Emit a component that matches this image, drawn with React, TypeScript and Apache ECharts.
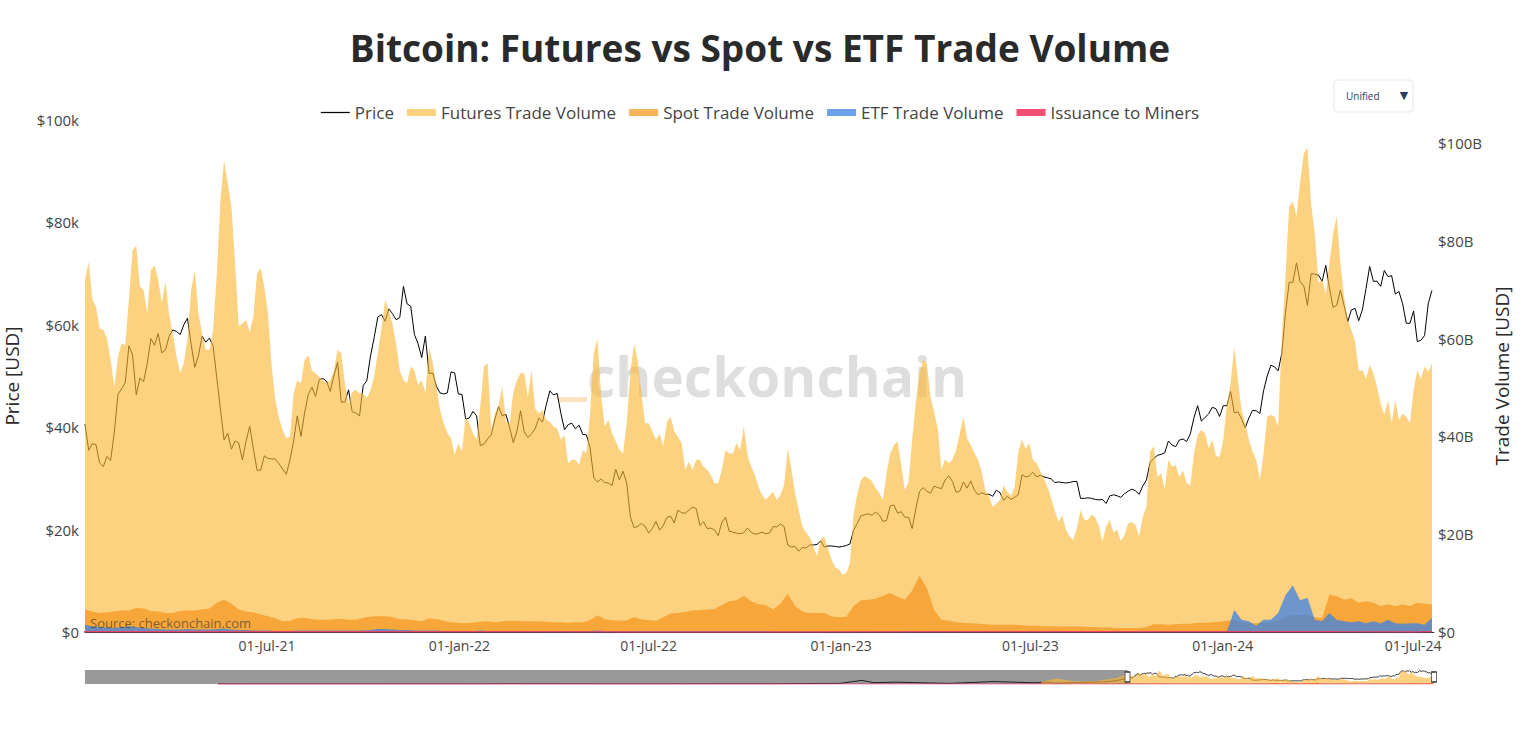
import React, { useEffect, useRef } from 'react';
import * as echarts from 'echarts';

const DAY = 86400000;
const WEEK_START = '2021-01-08';
const VIEW_START = '2021-01-08';
const VIEW_END = '2024-07-21';
const ALL_START = '2009-01-03';

const TITLE = 'Bitcoin: Futures vs Spot vs ETF Trade Volume';
const MONTHS = ['Jan', 'Feb', 'Mar', 'Apr', 'May', 'Jun', 'Jul', 'Aug', 'Sep', 'Oct', 'Nov', 'Dec'];
const priceTicksK = [0, 20, 40, 60, 80, 100];
const volumeTicksB = [0, 20, 40, 60, 80, 100];

// Weekly samples (Fridays from 2021-01-08); price in $k, volumes in $B
const priceK = [
  40.6, 36.8, 33.0, 34.3, 38.9, 47.5, 55.9, 46.3, 48.9, 57.3,
  58.3, 55.1, 59.0, 58.1, 61.3, 51.7, 57.8, 57.4, 49.7, 37.5,
  35.7, 36.9, 37.3, 35.8, 31.6, 33.9, 33.8, 31.8, 33.6, 42.2,
  42.8, 47.8, 49.3, 49.0, 50.0, 44.9, 47.3, 42.8, 48.1, 53.9,
  61.5, 60.7, 62.2, 61.4, 64.1, 58.1, 53.6, 50.5, 48.0, 46.5,
  50.8, 46.5, 41.6, 43.1, 36.4, 37.7, 41.6, 42.2, 40.0, 39.1,
  39.1, 38.7, 41.8, 44.3, 46.3, 42.8, 40.5, 39.7, 38.6, 36.0,
  29.3, 29.2, 28.6, 29.7, 29.1, 20.4, 21.2, 19.3, 21.6, 20.8,
  22.6, 23.8, 23.2, 24.4, 20.8, 20.2, 19.9, 21.4, 19.7, 19.3,
  19.4, 19.5, 19.2, 19.2, 20.6, 21.1, 17.0, 16.7, 16.5, 17.0,
  17.1, 16.6, 16.8, 16.6, 16.9, 19.9, 22.7, 23.1, 23.4, 21.6,
  24.6, 23.2, 22.4, 20.2, 27.4, 27.5, 28.5, 28.0, 30.5, 27.3,
  29.3, 29.5, 26.8, 26.9, 26.5, 27.2, 26.5, 26.3, 30.7, 30.5,
  30.3, 30.3, 29.9, 29.3, 29.1, 29.4, 26.1, 26.2, 25.9, 25.9,
  26.6, 26.6, 27.0, 27.9, 26.9, 29.7, 33.9, 34.7, 37.3, 36.2,
  37.7, 38.7, 44.2, 41.9, 43.9, 42.1, 44.2, 42.8, 41.6, 41.8,
  43.2, 47.1, 52.1, 51.0, 62.4, 68.3, 68.4, 63.8, 69.9, 68.5,
  67.2, 63.8, 63.8, 62.9, 60.8, 67.1, 68.5, 67.5, 69.4, 66.0,
  64.1, 60.3, 56.7, 57.9, 66.7,
];
// Mid-week samples (between each Friday and the next)
const priceMidK = [
  35.5, 36.6, 32.3, 33.5, 46.4, 48.7, 54.1, 49.6, 52.4, 56.0,
  54.5, 57.8, 58.7, 60.0, 56.2, 54.0, 56.6, 55.9, 43.5, 38.8,
  37.3, 33.6, 40.2, 31.6, 34.4, 33.8, 32.9, 30.8, 37.3, 38.2,
  46.4, 46.0, 49.5, 47.0, 52.7, 44.9, 43.0, 42.2, 49.1, 57.5,
  62.0, 63.1, 61.0, 67.5, 63.6, 56.3, 57.8, 50.6, 46.7, 46.7,
  50.6, 46.4, 41.8, 42.2, 36.7, 38.5, 44.0, 42.5, 37.0, 43.2,
  38.0, 39.7, 41.0, 47.1, 46.6, 39.5, 40.8, 40.4, 38.5, 30.1,
  29.9, 29.1, 31.8, 31.4, 22.5, 20.6, 20.7, 20.2, 19.9, 22.4,
  21.3, 23.3, 23.8, 24.1, 21.5, 20.3, 18.8, 22.4, 19.5, 19.2,
  20.3, 19.1, 19.5, 19.3, 20.5, 20.6, 16.6, 15.8, 16.4, 17.0,
  17.8, 16.8, 16.7, 16.7, 17.2, 21.2, 22.9, 22.8, 22.9, 21.8,
  24.8, 23.5, 22.4, 24.1, 28.2, 27.1, 28.2, 29.7, 29.4, 27.5,
  28.1, 27.7, 27.2, 26.9, 27.7, 25.7, 25.9, 26.8, 30.3, 31.2,
  30.6, 30.1, 29.2, 29.2, 29.2, 29.4, 26.1, 26.1, 25.8, 25.1,
  26.8, 26.3, 27.5, 27.6, 28.5, 33.1, 34.5, 35.0, 36.5, 37.5,
  37.2, 41.9, 41.2, 42.6, 43.6, 44.2, 47.0, 43.0, 39.9, 43.3,
  42.7, 50.0, 51.8, 54.5, 68.3, 72.1, 67.6, 70.0, 69.7, 71.6,
  63.4, 66.8, 60.6, 63.2, 62.9, 71.4, 68.5, 70.6, 69.6, 66.5,
  60.3, 62.7, 57.0, 64.1,
];

const futuresB = [
  72, 68, 62, 60, 50, 59, 68, 79, 70, 74,
  72, 71.6, 61, 53, 60, 74, 61, 57.7, 73, 96.4,
  87, 62.5, 63.8, 64.5, 74.4, 65, 47.5, 41.3, 40, 51.5,
  55.6, 53.5, 52.2, 50.8, 53.5, 57, 46.7, 49.5, 48.8, 49.5,
  57, 67.9, 63, 53.5, 50.8, 53.5, 51.5, 58, 50.2, 42.7,
  39.6, 38.6, 44, 40.6, 46.1, 55, 44.7, 50.2, 42.7, 51.5,
  52.9, 53.5, 44.7, 43.4, 42, 39.3, 34.5, 35.2, 37.2, 44.7,
  60, 42, 40.6, 37.2, 42.7, 59, 49, 42.7, 39.3, 37.9,
  44, 40, 33.2, 33.2, 35.2, 33.2, 30.4, 33.2, 36.5, 38.6,
  42, 33.8, 29.7, 27, 28.7, 28, 37.6, 28.4, 21.6, 19.5,
  15.5, 19.5, 14.8, 12.8, 12.1, 24.2, 31.1, 31.4, 29.4, 27,
  36.5, 39, 29, 39.3, 52.9, 55, 45, 33.2, 34.5, 37.2,
  44, 38.2, 35.2, 29, 25.6, 27, 28.7, 29.7, 39.3, 38.6,
  34.5, 31.4, 27.3, 22.5, 20.9, 18.8, 24.9, 22.9, 23.5, 18.5,
  22.9, 20.9, 19.8, 22.5, 19.5, 25.6, 38, 32.5, 35.2, 34.1,
  33.1, 30, 40.3, 40.6, 39.3, 35.8, 46.7, 58.3, 45.4, 39.3,
  35.2, 36.5, 44.4, 42, 73, 88, 92, 99, 81.5, 72,
  75.4, 85, 68.6, 61.8, 53.5, 51.8, 52.9, 46.7, 47.4, 47.4,
  44.7, 42.7, 53.5, 54.3, 54.9,
];
const futuresMidB = [
  75.7, 66.5, 61.8, 55.6, 56.3, 58.7, 78.1, 70.6, 65.2, 75.0,
  67.2, 64.8, 56.3, 54.9, 70.0, 65.2, 57.7, 61.8, 88.3, 91.7,
  75.4, 63.1, 61.4, 73.3, 70.6, 54.3, 43.7, 39.6, 48.8, 50.8,
  56.6, 52.9, 51.5, 51.5, 57.7, 50.8, 49.1, 48.8, 47.8, 52.2,
  62.1, 65.8, 59.0, 51.5, 54.3, 50.5, 48.9, 55.2, 45.4, 40.7,
  36.2, 36.9, 42.7, 39.3, 54.3, 41.3, 46.4, 43.0, 48.9, 52.9,
  48.1, 45.7, 45.4, 43.0, 41.6, 40.3, 35.2, 34.1, 36.5, 57.0,
  48.5, 43.4, 39.0, 36.5, 52.9, 55.6, 42.7, 41.0, 40.6, 43.0,
  41.0, 38.6, 34.8, 35.2, 33.8, 32.1, 30.4, 37.2, 36.5, 37.2,
  36.2, 32.1, 28.0, 27.9, 27.0, 30.0, 33.4, 24.9, 20.3, 17.5,
  19.0, 17.0, 13.2, 11.7, 14.1, 28.2, 31.9, 30.9, 28.5, 32.5,
  38.2, 34.3, 30.7, 47.1, 55.6, 48.0, 41.6, 35.3, 35.2, 40.6,
  39.6, 36.6, 32.7, 27.8, 26.3, 30.0, 27.8, 36.9, 37.4, 35.2,
  32.9, 29.6, 24.7, 23.9, 19.5, 21.2, 23.0, 24.0, 21.6, 21.7,
  20.3, 18.6, 22.2, 21.9, 23.5, 36.9, 31.7, 29.3, 33.8, 31.7,
  30.4, 36.5, 41.3, 37.6, 36.0, 39.3, 50.8, 51.5, 42.7, 36.9,
  31.1, 44.1, 44.0, 60.4, 87.0, 85.0, 97.9, 87.6, 71.4, 69.2,
  81.5, 75.4, 63.8, 59.4, 53.5, 54.6, 50.2, 44.4, 42.7, 43.4,
  44.0, 49.5, 51.8, 53.2,
];

const spotB = [
  4.6, 4.2, 3.9, 4.0, 4.2, 4.4, 4.4, 4.9, 4.8, 4.3,
  4.2, 3.9, 3.9, 4.3, 4.4, 4.4, 4.6, 4.8, 6.0, 6.6,
  5.8, 4.6, 4.2, 4.0, 3.6, 3.2, 2.8, 2.2, 2.3, 2.8,
  2.9, 2.6, 2.5, 2.5, 2.6, 2.7, 2.5, 2.5, 2.9, 3.1,
  3.2, 3.2, 3.0, 2.6, 2.6, 2.4, 2.2, 2.8, 2.6, 2.3,
  2.0, 1.9, 1.8, 1.9, 2.1, 2.2, 2.0, 2.2, 2.3, 2.3,
  2.2, 2.2, 2.2, 2.1, 2.0, 2.0, 1.9, 2.0, 2.0, 2.4,
  3.4, 2.6, 2.4, 2.3, 2.4, 3.0, 2.6, 2.4, 2.3, 3.0,
  3.8, 3.9, 4.1, 4.4, 4.5, 4.6, 4.7, 5.5, 6.3, 6.5,
  7.4, 6.3, 5.7, 5.5, 4.6, 5.8, 7.8, 5.3, 4.2, 3.9,
  3.9, 3.9, 3.2, 3.0, 3.1, 5.3, 6.5, 6.6, 6.8, 7.4,
  8.0, 7.2, 6.6, 8.5, 11.5, 9.0, 4.5, 2.5, 2.3, 2.0,
  1.9, 1.8, 1.7, 1.6, 1.5, 1.5, 1.5, 1.5, 1.4, 1.3,
  1.3, 1.2, 1.2, 1.1, 1.1, 1.1, 1.1, 1.0, 1.0, 0.9,
  0.9, 0.8, 0.8, 0.8, 0.8, 1.0, 1.6, 1.6, 1.5, 1.6,
  1.7, 1.7, 1.9, 1.9, 2.0, 2.1, 2.3, 2.5, 2.0, 1.8,
  1.8, 2.0, 2.0, 2.3, 3.0, 3.5, 3.5, 3.5, 3.0, 2.8,
  7.6, 7.3, 6.6, 6.9, 6.0, 6.3, 6.0, 5.3, 5.6, 5.3,
  5.6, 5.3, 6.0, 5.8, 5.6,
];

const etfB = [
  1.5, 1.2, 1.0, 0.9, 0.8, 1.0, 1.2, 1.0, 0.8, 0.7,
  0.6, 0.5, 0.5, 0.5, 0.6, 0.5, 0.5, 0.5, 0.6, 0.7,
  0.5, 0.4, 0.4, 0.3, 0.3, 0.3, 0.2, 0.2, 0.2, 0.3,
  0.3, 0.3, 0.3, 0.3, 0.3, 0.3, 0.3, 0.3, 0.3, 0.4,
  0.6, 0.6, 0.5, 0.4, 0.4, 0.3, 0.3, 0.3, 0.3, 0.2,
  0.2, 0.2, 0.2, 0.2, 0.3, 0.2, 0.2, 0.2, 0.2, 0.2,
  0.2, 0.2, 0.2, 0.2, 0.2, 0.2, 0.2, 0.2, 0.2, 0.2,
  0.3, 0.2, 0.2, 0.2, 0.2, 0.2, 0.2, 0.2, 0.2, 0.2,
  0.2, 0.2, 0.2, 0.2, 0.2, 0.2, 0.2, 0.2, 0.2, 0.2,
  0.2, 0.2, 0.2, 0.2, 0.1, 0.1, 0.1, 0.1, 0.1, 0.1,
  0.1, 0.1, 0.1, 0.1, 0.1, 0.1, 0.1, 0.1, 0.1, 0.1,
  0.1, 0.1, 0.1, 0.1, 0.1, 0.1, 0.1, 0.1, 0.1, 0.1,
  0.1, 0.1, 0.1, 0.1, 0.1, 0.1, 0.1, 0.1, 0.1, 0.1,
  0.1, 0.1, 0.1, 0.1, 0.1, 0.1, 0.1, 0.1, 0.1, 0.1,
  0.1, 0.1, 0.1, 0.1, 0.1, 0.1, 0.1, 0.1, 0.1, 0.1,
  0.1, 0.1, 0.1, 0.1, 0.1, 0.1, 0.1, 4.5, 2.5, 2.2,
  1.3, 2.5, 2.5, 3.9, 7.5, 9.5, 6.5, 7.0, 2.5, 2.2,
  3.9, 2.5, 2.2, 2.0, 2.2, 1.8, 2.2, 1.8, 2.5, 1.8,
  1.7, 1.8, 1.8, 1.5, 2.9,
];

// Issuance to miners ($B per day), sparse
const issuanceDates = ['2010-07-17', '2013-12-01', '2017-12-17', '2018-12-15', '2020-05-11', '2021-01-08', '2021-04-14', '2021-07-20', '2021-11-10', '2022-06-18', '2022-11-21', '2023-06-30', '2024-03-14', '2024-04-19', '2024-07-05', '2024-07-19'];
const issuanceB = [0.0005, 0.0029, 0.028, 0.0067, 0.016, 0.037, 0.058, 0.027, 0.061, 0.018, 0.014, 0.028, 0.066, 0.029, 0.025, 0.03];

// Earlier history, shown only in the range slider
const earlyPriceDates = ['2010-07-17', '2011-06-08', '2011-11-18', '2013-04-09', '2013-07-05', '2013-11-30', '2014-06-01', '2015-01-14', '2015-12-01', '2016-06-17', '2016-12-31', '2017-06-12', '2017-09-14', '2017-12-17', '2018-02-06', '2018-05-05', '2018-11-25', '2018-12-15', '2019-06-26', '2019-12-17', '2020-02-13', '2020-03-12', '2020-07-25', '2020-10-21', '2020-11-30', '2021-01-01'];
const earlyPriceK = [0.0001, 0.03, 0.002, 0.23, 0.07, 1.15, 0.63, 0.18, 0.36, 0.75, 0.96, 2.9, 3.2, 19.3, 6.9, 9.8, 3.9, 3.2, 12.9, 6.6, 10.3, 4.9, 9.5, 12.8, 19.7, 29.0];
const earlyFuturesDates = ['2020-01-10', '2020-03-13', '2020-06-01', '2020-09-01', '2020-11-25', '2021-01-01'];
const earlyFuturesB = [14, 40, 20, 22, 45, 68];

const FUT = 'rgba(250,182,52,0.63)';
const SPOT = 'rgba(245,151,32,0.74)';
const ETF = 'rgba(60,130,230,0.75)';
const ISS = 'rgba(239,59,100,0.9)';
const FONT = '"Open Sans", sans-serif';

const t = (s: string) => new Date(s + 'T00:00:00Z').getTime();
const weekDates = priceK.map((_, i) => t(WEEK_START) + i * 7 * DAY);
const pairs = (vals: number[]) => vals.map((v, i) => [weekDates[i], v]);
const datedPairs = (ds: string[], vals: number[]) => vals.map((v, i) => [t(ds[i]), v]);
const interleave = (weekly: number[], mid: number[]) => {
  const out: number[][] = [];
  weekly.forEach((v, i) => {
    out.push([weekDates[i], v]);
    if (i < mid.length) out.push([weekDates[i] + 3.5 * DAY, mid[i]]);
  });
  return out;
};

export default function App() {
  const ref = useRef<HTMLDivElement>(null);
  useEffect(() => {
    if (!ref.current) return;
    const chart = echarts.init(ref.current, undefined, { renderer: 'svg' });
    const viewStart = t(VIEW_START);
    const viewEnd = t(VIEW_END);
    const allStart = t(ALL_START);
    const priceData = interleave(priceK, priceMidK);
    const futuresData = interleave(futuresB, futuresMidB);

    const xLabel = (v: number) => {
      const d = new Date(v);
      if (d.getUTCDate() !== 1 || d.getUTCMonth() % 6 !== 0) return '';
      return '01-' + MONTHS[d.getUTCMonth()] + '-' + String(d.getUTCFullYear()).slice(2);
    };

    const option: any = {
      animation: false,
      useUTC: true,
      backgroundColor: '#fff',
      title: {
        text: TITLE,
        left: 'center',
        top: 24,
        textStyle: { fontSize: 37, fontWeight: 'bold', color: '#2a2a2a', fontFamily: FONT },
      },
      legend: {
        top: 99,
        left: 'center',
        itemWidth: 29,
        itemHeight: 7,
        itemGap: 13,
        textStyle: { fontSize: 17, color: '#444', fontFamily: FONT },
        data: [
          { name: 'Price', icon: 'path://M0,0 L30,0 L30,1.3 L0,1.3 Z' },
          { name: 'Futures Trade Volume', icon: 'rect' },
          { name: 'Spot Trade Volume', icon: 'rect' },
          { name: 'ETF Trade Volume', icon: 'rect' },
          { name: 'Issuance to Miners', icon: 'rect' },
        ],
      },
      grid: [
        { left: 85, right: 86, top: 120, bottom: 102, outerBoundsMode: 'none' },
        { left: 85, right: 86, top: 670, height: 14, outerBoundsMode: 'none' },
      ],
      xAxis: [
        {
          type: 'time',
          gridIndex: 0,
          min: viewStart,
          max: viewEnd,
          splitNumber: 7,
          minInterval: 180 * DAY,
          maxInterval: 186 * DAY,
          axisLine: { show: true, lineStyle: { color: '#333', width: 1 } },
          axisTick: { show: false },
          splitLine: { show: false },
          axisLabel: { formatter: xLabel, fontSize: 14, color: '#444', fontFamily: FONT, margin: 6, hideOverlap: false },
        },
        { type: 'time', gridIndex: 1, min: allStart, max: viewEnd, show: false },
      ],
      yAxis: [
        {
          type: 'value',
          gridIndex: 0,
          position: 'left',
          min: priceTicksK[0],
          max: priceTicksK[priceTicksK.length - 1],
          interval: 20,
          name: 'Price [USD]',
          nameLocation: 'middle',
          nameGap: 64,
          nameRotate: 90,
          nameTextStyle: { fontSize: 19, color: '#2a2a2a', fontFamily: FONT },
          axisLine: { show: false },
          axisTick: { show: false },
          splitLine: { show: false },
          axisLabel: {
            fontSize: 15, color: '#444', fontFamily: FONT, margin: 6,
            formatter: (v: number) => (v === 0 ? '$0' : '$' + v + 'k'),
          },
        },
        {
          type: 'value',
          gridIndex: 0,
          position: 'right',
          min: volumeTicksB[0],
          max: 104.7,
          interval: 20,
          name: 'Trade Volume [USD]',
          nameLocation: 'middle',
          nameGap: 52,
          nameRotate: 90,
          nameTextStyle: { fontSize: 19, color: '#2a2a2a', fontFamily: FONT },
          axisLine: { show: false },
          axisTick: { show: false },
          splitLine: { show: false },
          axisLabel: {
            fontSize: 15, color: '#444', fontFamily: FONT, margin: 4, showMaxLabel: false,
            formatter: (v: number) => (volumeTicksB.indexOf(Math.round(v * 1000) / 1000) < 0 ? '' : v === 0 ? '$0' : '$' + v + 'B'),
          },
        },
        { type: 'value', gridIndex: 1, min: 0, max: 75, show: false },
        { type: 'value', gridIndex: 1, min: 0, max: 101, show: false },
      ],
      series: [
        {
          name: 'Price', type: 'line', xAxisIndex: 0, yAxisIndex: 0, data: priceData, z: 2,
          symbol: 'none', showSymbol: false, color: '#000', lineStyle: { color: '#000', width: 1 },
        },
        {
          name: 'Futures Trade Volume', type: 'line', xAxisIndex: 0, yAxisIndex: 1, data: futuresData, z: 3,
          symbol: 'none', color: FUT, lineStyle: { width: 0 }, areaStyle: { color: FUT, opacity: 1 },
        },
        {
          name: 'Spot Trade Volume', type: 'line', xAxisIndex: 0, yAxisIndex: 1, data: pairs(spotB), z: 4,
          symbol: 'none', color: SPOT, lineStyle: { width: 0 }, areaStyle: { color: SPOT, opacity: 1 },
        },
        {
          name: 'ETF Trade Volume', type: 'line', xAxisIndex: 0, yAxisIndex: 1, data: pairs(etfB), z: 5,
          symbol: 'none', color: ETF, lineStyle: { width: 0 }, areaStyle: { color: ETF, opacity: 1 },
        },
        {
          name: 'Issuance to Miners', type: 'line', xAxisIndex: 0, yAxisIndex: 1, data: datedPairs(issuanceDates, issuanceB), z: 6,
          symbol: 'none', color: ISS, lineStyle: { color: ISS, width: 1.5 }, areaStyle: { color: ISS, opacity: 1 },
        },
        // range-slider preview
        {
          name: 'mini-futures', type: 'line', xAxisIndex: 1, yAxisIndex: 3, silent: true, z: 3,
          data: datedPairs(earlyFuturesDates, earlyFuturesB).concat(futuresData),
          symbol: 'none', lineStyle: { width: 0 }, areaStyle: { color: FUT, opacity: 1 },
        },
        {
          name: 'mini-spot', type: 'line', xAxisIndex: 1, yAxisIndex: 3, silent: true, data: pairs(spotB), z: 4,
          symbol: 'none', lineStyle: { width: 0 }, areaStyle: { color: SPOT, opacity: 1 },
        },
        {
          name: 'mini-price', type: 'line', xAxisIndex: 1, yAxisIndex: 2, silent: true, z: 2,
          data: datedPairs(earlyPriceDates, earlyPriceK).concat(priceData),
          symbol: 'none', lineStyle: { color: '#000', width: 0.8 },
        },
        {
          name: 'mini-issuance', type: 'line', xAxisIndex: 1, yAxisIndex: 3, silent: true, z: 6,
          data: datedPairs(issuanceDates, issuanceB),
          symbol: 'none', lineStyle: { color: ISS, width: 1.2 },
        },
        {
          name: 'mini-mask', type: 'line', xAxisIndex: 1, yAxisIndex: 2, silent: true, z: 10, data: [],
          markArea: {
            silent: true,
            itemStyle: { color: 'rgba(0,0,0,0.4)' },
            label: { show: false },
            data: [[{ xAxis: allStart }, { xAxis: viewStart }]],
          },
          markPoint: {
            silent: true,
            symbol: 'rect',
            symbolSize: [5, 10],
            itemStyle: { color: '#fff', borderColor: '#333', borderWidth: 1 },
            label: { show: false },
            data: [{ coord: [viewStart, 37.5] }, { coord: [viewEnd, 37.5] }],
          },
        },
      ],
      graphic: [
        {
          type: 'text', x: 777, y: 375, z: -1, silent: true,
          style: { text: 'checkonchain', textAlign: 'center', textVerticalAlign: 'middle', fontSize: 55, fontWeight: 'bold', fontFamily: FONT, fill: 'rgba(0,0,0,0.13)' },
        },
        { type: 'rect', x: 558, y: 397, z: -1, silent: true, shape: { width: 29, height: 5 }, style: { fill: '#fde3c0' } },
        {
          type: 'text', x: 90, y: 623, z: 100, silent: true,
          style: { text: 'Source: checkonchain.com', textAlign: 'left', textVerticalAlign: 'middle', fontSize: 13, fontFamily: FONT, fill: 'rgba(45,45,45,0.62)' },
        },
        {
          type: 'rect', x: 1334, y: 80, z: 100, silent: true,
          shape: { width: 79, height: 32, r: 3 }, style: { fill: '#fff', stroke: '#e6e6e6', lineWidth: 1 },
        },
        {
          type: 'text', x: 1346, y: 96, z: 101, silent: true,
          style: { text: 'Unified', textAlign: 'left', textVerticalAlign: 'middle', fontSize: 10, fontFamily: FONT, fill: '#2a3f5f' },
        },
        {
          type: 'text', x: 1404, y: 95, z: 101, silent: true,
          style: { text: '▼', textAlign: 'center', textVerticalAlign: 'middle', fontSize: 11, fontFamily: 'DejaVu Sans', fill: '#2a3f5f' },
        },
      ],
    };
    chart.setOption(option);
    return () => chart.dispose();
  }, []);
  return <div ref={ref} style={{ position: 'fixed', left: 0, top: 0, width: 1520, height: 734 }} />;
}
